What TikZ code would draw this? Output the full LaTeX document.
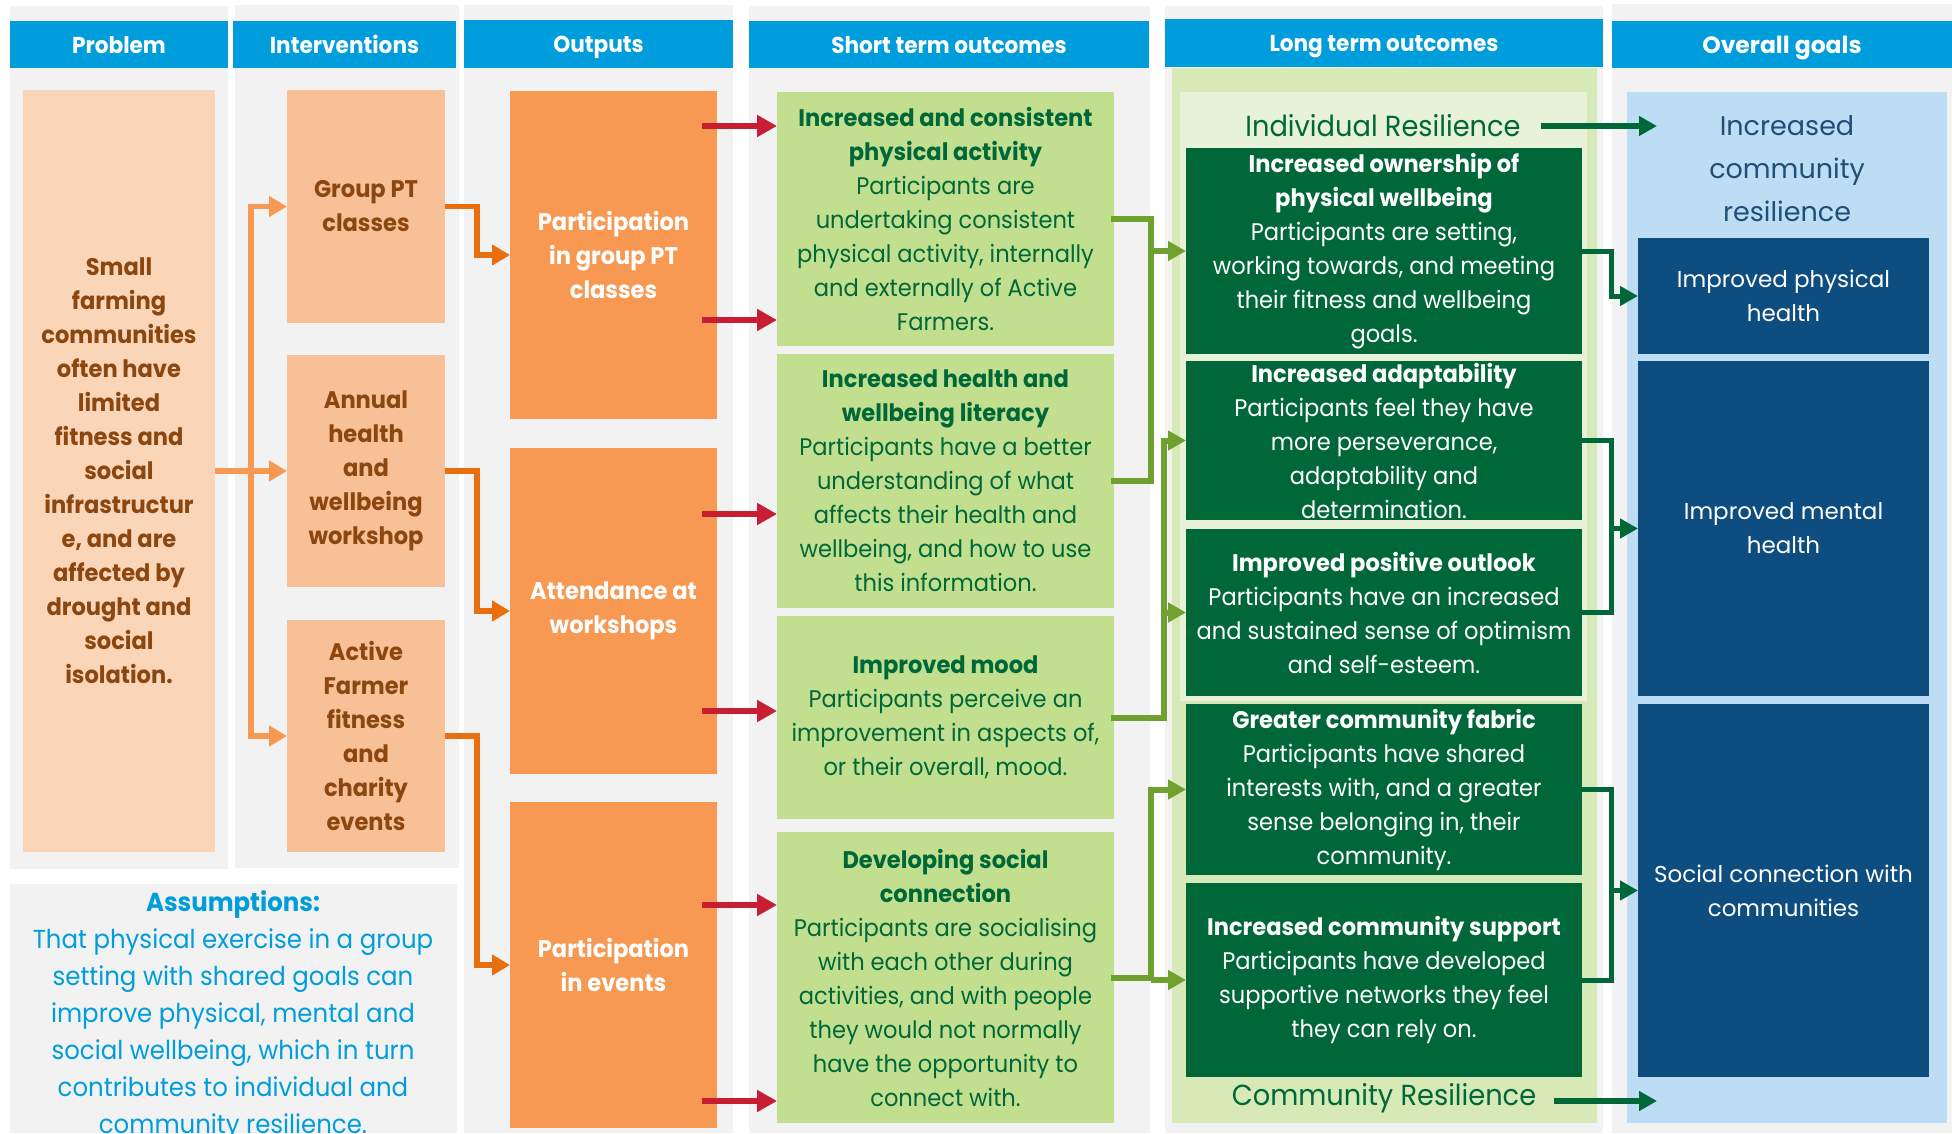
\documentclass[tikz,border=0pt]{standalone}
\usepackage{fontspec}
\setmainfont{Poppins}[FakeStretch=0.94]
\newfontfamily\gothic{Poppins}
\usetikzlibrary{arrows.meta}

\definecolor{hdrblue}{RGB}{0,157,220}
\definecolor{bggrey}{RGB}{242,242,242}
\definecolor{probfill}{RGB}{250,213,184}
\definecolor{intfill}{RGB}{248,192,150}
\definecolor{outfill}{RGB}{247,153,82}
\definecolor{probtext}{RGB}{140,70,15}
\definecolor{arrdark}{RGB}{232,110,14}
\definecolor{arrlight}{RGB}{247,153,82}
\definecolor{arrred}{RGB}{200,30,52}
\definecolor{stfill}{RGB}{194,223,144}
\definecolor{dkgreen}{RGB}{0,104,56}
\definecolor{ltarea}{RGB}{214,233,183}
\definecolor{ltinner}{RGB}{231,242,217}
\definecolor{olive}{RGB}{112,160,48}
\definecolor{goalarea}{RGB}{189,221,245}
\definecolor{navy}{RGB}{14,77,128}
\definecolor{goaltext}{RGB}{31,78,121}

\newcommand\setfs[2]{\fontsize{#1}{#2}\selectfont}

\begin{document}
\begin{tikzpicture}[x=1pt,y=-1pt,
  blk/.style={inner sep=0pt, outer sep=0pt, anchor=north west, align=center},
  hdr/.style={blk, fill=hdrblue, text=white, text height=20pt, text depth=3pt, font=\setfs{23}{28}\bfseries},
  probbox/.style={blk, fill=probfill, text=probtext, font=\setfs{24}{34}\bfseries},
  intbox/.style={blk, fill=intfill, text=probtext, font=\setfs{24}{34}\bfseries},
  outbox/.style={blk, fill=outfill, text=white, font=\setfs{24}{34}\bfseries},
  stbox/.style={blk, fill=stfill, text=dkgreen, font=\setfs{24}{34}},
  ltbox/.style={blk, fill=dkgreen, text=white, font=\setfs{24}{34}},
  goalbox/.style={blk, fill=navy, text=white, font=\gothic\setfs{23}{34}},
  grouplbl/.style={inner sep=0pt, outer sep=0pt, text=dkgreen, font=\setfs{29}{34}},
  orarr/.style={draw=arrdark, line width=5.5pt, -{Triangle[length=18pt,width=20pt]}},
  ltarr/.style={draw=arrlight, line width=5.5pt, -{Triangle[length=18pt,width=20pt]}},
  redarr/.style={draw=arrred, line width=6.5pt, -{Triangle[length=20pt,width=21pt]}},
  olvline/.style={draw=olive, line width=6pt, line cap=rect},
  olvarr/.style={draw=olive, line width=6pt, -{Triangle[length=18pt,width=19pt]}},
  dgline/.style={draw=dkgreen, line width=5pt, line cap=rect},
  dgarr/.style={draw=dkgreen, line width=5pt, -{Triangle[length=18pt,width=19pt]}}
]
\useasboundingbox (0,0) rectangle (1952,1133);
\fill[white] (0,0) rectangle (1952,1133);

% column backgrounds
\fill[bggrey] (10,6) rectangle (228,869);
\fill[bggrey] (235,5) rectangle (459,868);
\fill[bggrey] (10,884) rectangle (457,1133);
\fill[bggrey] (464,5) rectangle (733,1133);
\fill[bggrey] (749,6) rectangle (1150,1133);
\fill[bggrey] (1165,6) rectangle (1603,1133);
\fill[bggrey] (1612,4) rectangle (1952,1133);

% long term and goal areas
\fill[ltarea] (1172,68) rectangle (1597,1123);
\fill[ltinner] (1180,92) rectangle (1587,701);
\fill[goalarea] (1627,92) rectangle (1947,1123);

% column headers
\node[hdr, minimum width=218, minimum height=47] (hProb) at (10,21) {Problem};
\node[hdr, minimum width=223, minimum height=47] (hInt) at (233,21) {Interventions};
\node[hdr, minimum width=269, minimum height=48] (hOut) at (464,20) {Outputs};
\node[hdr, minimum width=400, minimum height=47] (hST) at (749,21) {Short term outcomes};
\node[hdr, minimum width=438, minimum height=48] (hLT) at (1165,19) {Long term outcomes};
\node[hdr, minimum width=340, minimum height=47, font=\gothic\setfs{23.5}{28}\bfseries] (hGoal) at (1612,21) {Overall goals};

% problem
\node[probbox, minimum width=192, minimum height=762] (p) at (23,90)
  {Small\\farming\\communities\\often have\\limited\\fitness and\\social\\infrastructur\\e, and are\\affected by\\drought and\\social\\isolation.};

% interventions
\node[intbox, minimum width=158, minimum height=233] (i1) at (287,90) {Group PT\\classes};
\node[intbox, minimum width=158, minimum height=232] (i2) at (287,355) {Annual\\health\\and\\wellbeing\\workshop};
\node[intbox, minimum width=158, minimum height=232] (i3) at (287,620) {Active\\Farmer\\fitness\\and\\charity\\events};

% outputs
\node[outbox, minimum width=207, minimum height=328] (o1) at (510,91) {Participation\\in group PT\\classes};
\node[outbox, minimum width=207, minimum height=326] (o2) at (510,448) {Attendance at\\workshops};
\node[outbox, minimum width=207, minimum height=326] (o3) at (510,802) {Participation\\in events};

% assumptions
\node[inner sep=0pt, align=center, text=hdrblue, font=\setfs{26}{37}] (asm) at (233,1015)
  {\textbf{Assumptions:}\\That physical exercise in a group\\setting with shared goals can\\improve physical, mental and\\social wellbeing, which in turn\\contributes to individual and\\community resilience.};

% short term outcomes
\node[stbox, minimum width=337, minimum height=254] (s1) at (777,92)
  {\textbf{Increased and consistent}\\\textbf{physical activity}\\Participants are\\undertaking consistent\\physical activity, internally\\and externally of Active\\Farmers.};
\node[stbox, minimum width=337, minimum height=254] (s2) at (777,354)
  {\textbf{Increased health and}\\\textbf{wellbeing literacy}\\Participants have a better\\understanding of what\\affects their health and\\wellbeing, and how to use\\this information.};
\node[stbox, minimum width=337, minimum height=203] (s3) at (777,616)
  {\textbf{Improved mood}\\Participants perceive an\\improvement in aspects of,\\or their overall, mood.};
\node[stbox, minimum width=337, minimum height=291] (s4) at (777,832)
  {\textbf{Developing social}\\\textbf{connection}\\Participants are socialising\\with each other during\\activities, and with people\\they would not normally\\have the opportunity to\\connect with.};

% long term outcomes
\node[grouplbl] (ir) at (1383,126) {Individual Resilience};
\node[grouplbl] (cr) at (1384,1098) {Community Resilience};
\node[ltbox, minimum width=396, minimum height=206] (l1) at (1186,148)
  {\textbf{Increased ownership of}\\\textbf{physical wellbeing}\\Participants are setting,\\working towards, and meeting\\their fitness and wellbeing\\goals.};
\node[ltbox, minimum width=396, minimum height=159] (l2) at (1186,361)
  {\textbf{Increased adaptability}\\Participants feel they have\\more perseverance,\\adaptability and\\determination.};
\node[ltbox, minimum width=396, minimum height=167] (l3) at (1186,529)
  {\textbf{Improved positive outlook}\\Participants have an increased\\and sustained sense of optimism\\and self-esteem.};
\node[ltbox, minimum width=396, minimum height=171] (l4) at (1186,704)
  {\textbf{Greater community fabric}\\Participants have shared\\interests with, and a greater\\sense belonging in, their\\community.};
\node[ltbox, minimum width=396, minimum height=194] (l5) at (1186,883)
  {\textbf{Increased community support}\\Participants have developed\\supportive networks they feel\\they can rely on.};

% overall goals
\node[inner sep=0pt, align=center, text=goaltext, font=\gothic\setfs{27}{43}] (gt) at (1787,169)
  {Increased\\community\\resilience};
\node[goalbox, minimum width=291, minimum height=116] (g1) at (1638,238) {Improved physical\\health};
\node[goalbox, minimum width=291, minimum height=335] (g2) at (1638,361) {Improved mental\\health};
\node[goalbox, minimum width=291, minimum height=373] (g3) at (1638,704) {Social connection with\\communities};

% problem to interventions
\coordinate (pbus) at (251,471);
\draw[ltarr] (p.east) -- (i2.west);
\draw[ltarr] (pbus) |- (i1.west);
\draw[ltarr] (pbus) |- (i3.west);

% interventions to outputs
\draw[orarr] (i1.east) -- ++(32,0) |- (o1.west);
\draw[orarr] (i2.east) -- ++(32,0) |- (o2.west);
\draw[orarr] (i3.east) -- ++(32,0) |- (o3.west);

% outputs to short term outcomes
\draw[redarr] (o1.east |- 0,126) ++(-15,0) -- (s1.west |- 0,126);
\draw[redarr] (o1.east |- 0,320) ++(-15,0) -- (s1.west |- 0,320);
\draw[redarr] (o2.east |- 0,514) ++(-15,0) -- (s2.west |- 0,514);
\draw[redarr] (o2.east |- 0,711) ++(-15,0) -- (s3.west |- 0,711);
\draw[redarr] (o3.east |- 0,905) ++(-15,0) -- (s4.west |- 0,905);
\draw[redarr] (o3.east |- 0,1101) ++(-15,0) -- (s4.west |- 0,1101);

% short term to long term outcomes
\coordinate (sb) at (1151,0);
\coordinate (sc) at (1164,0);
\draw[olvline] (s1.east) -| (sb |- s2.east) -- (s2.east);
\draw[olvarr] (sb |- l1.west) -- (l1.west);
\draw[olvline] (s3.east) -| (sc |- l2.west);
\draw[olvarr] (sc |- l2.west) -- (l2.west);
\draw[olvarr] (sc |- l3.west) -- (l3.west);
\draw[olvline] (s4.east) -| (sb |- l4.west);
\draw[olvarr] (sb |- l4.west) -- (l4.west);
\draw[olvarr] (sb |- l5.west) -- (l5.west);

% long term outcomes to goals
\coordinate (gb) at (1611,0);
\draw[dgarr] (l1.east) -- ++(29,0) |- (g1.west);
\draw[dgline] (l2.east) -| (gb |- l3.east) -- (l3.east);
\draw[dgarr] (gb |- g2.west) -- (g2.west);
\draw[dgline] (l4.east) -| (gb |- l5.east) -- (l5.east);
\draw[dgarr] (gb |- g3.west) -- (g3.west);

% resilience groups to the overall goal
\coordinate (irEnd) at (1657,126);
\coordinate (crEnd) at (1657,1101);
\draw[dgarr, line width=6pt] (ir.east) ++(20,0) -- (irEnd);
\draw[dgarr, line width=6pt] (cr.east) ++(18,3) -- (crEnd);
\end{tikzpicture}
\end{document}
